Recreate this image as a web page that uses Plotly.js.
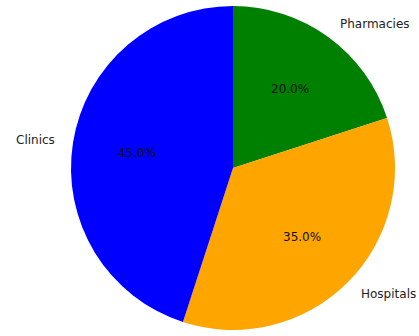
<!DOCTYPE html>
<html>
<head>
<meta charset="utf-8">
<script src="https://cdn.plot.ly/plotly-3.0.1.min.js"></script>
<style>html,body{margin:0;padding:0;background:#fff;}#chart{width:419px;height:336px;}</style>
</head>
<body>
<div id="chart"></div>
<script>
const categories = ["Pharmacies", "Hospitals", "Clinics"];
const values = [20, 35, 45];
const colors = ["#008000", "#ffa500", "#0000ff"];

const W = 419, H = 336;
const cx = 233, cy = 168, R = 162;

const total = values.reduce((a, b) => a + b, 0);
const annotations = [];
let start = 90;
values.forEach((v, i) => {
  const span = 360 * v / total;
  const mid = (start - span / 2) * Math.PI / 180;
  start -= span;
  const px = cx + 0.6 * R * Math.cos(mid), py = cy - 0.6 * R * Math.sin(mid);
  annotations.push({
    x: px / W, y: 1 - py / H, xref: "paper", yref: "paper", showarrow: false,
    text: (100 * v / total).toFixed(1) + "%", xanchor: "center", yanchor: "middle",
    font: {family: "DejaVu Sans", size: 12, color: "#111"}
  });
  const lx = cx + 1.1 * R * Math.cos(mid), ly = cy - 1.1 * R * Math.sin(mid);
  annotations.push({
    x: lx / W, y: 1 - ly / H, xref: "paper", yref: "paper", showarrow: false,
    text: categories[i], xanchor: Math.cos(mid) >= 0 ? "left" : "right", yanchor: "middle",
    font: {family: "DejaVu Sans", size: 12, color: "#222"}
  });
});

const data = [{
  type: "pie",
  labels: categories,
  values: values,
  sort: false,
  direction: "clockwise",
  rotation: 0,
  marker: {colors: colors, line: {width: 0}},
  textinfo: "none",
  hoverinfo: "label+percent",
  showlegend: false,
  domain: {x: [(cx - R) / W, (cx + R) / W], y: [1 - (cy + R) / H, 1 - (cy - R) / H]}
}];

const layout = {
  width: W, height: H,
  margin: {l: 0, r: 0, t: 0, b: 0},
  paper_bgcolor: "#fff",
  showlegend: false,
  annotations: annotations
};

Plotly.newPlot("chart", data, layout, {displayModeBar: false, staticPlot: true});
</script>
</body>
</html>
